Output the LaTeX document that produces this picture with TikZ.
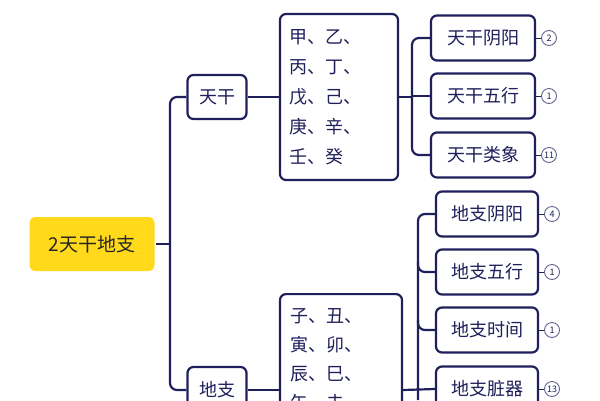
\documentclass[tikz,border=0pt]{standalone}
\usepackage{fontspec}
\setmainfont{Noto Sans CJK SC}
\definecolor{navy}{HTML}{1F1F5C}
\definecolor{gold}{HTML}{FFD91A}
\begin{document}
\begin{tikzpicture}[x=1pt,y=-1pt,
  box/.style={draw=navy,line width=2.2pt,rounded corners=6pt,fill=white,text=navy,font=\fontsize{18}{20}\selectfont,inner sep=0pt},
  num/.style={circle,draw=navy!70,line width=0.9pt,inner sep=0pt,minimum size=15pt,text=navy,font=\fontsize{9}{10}\selectfont},
  ln/.style={draw=navy,line width=2.2pt,rounded corners=7pt}]
\useasboundingbox (0,0) rectangle (600,400);
\clip (0,0) rectangle (600,400);
\node[box,fill=gold,draw=none,text=black!85,minimum width=125pt,minimum height=54pt,font=\fontsize{19}{22}\selectfont] (root) at (92,244) {2天干地支};
\node[box,minimum width=59pt,minimum height=44pt] (tg) at (217,97) {天干};
\node[box,minimum width=59pt,minimum height=46pt] (dz) at (217,390) {地支};
\node[box,minimum width=118pt,minimum height=166pt,align=left,text width=100pt,font=\fontsize{18}{30}\selectfont] (tgl) at (339,97) {甲、乙、\\丙、丁、\\戊、己、\\庚、辛、\\壬、癸};
\node[box,minimum width=122pt,minimum height=200pt,anchor=north] (dzl) at (341,293) {};
\node[anchor=north west,align=left,text=navy,inner sep=0pt,font=\fontsize{18}{29}\selectfont] (dzt) at (290,308) {子、丑、\\寅、卯、\\辰、巳、\\午、未、};
\node[box,minimum width=104pt,minimum height=45pt] (a1) at (483,38) {天干阴阳};
\node[box,minimum width=104pt,minimum height=45pt] (a2) at (483,96) {天干五行};
\node[box,minimum width=104pt,minimum height=45pt] (a3) at (483,155) {天干类象};
\node[box,minimum width=102pt,minimum height=45pt] (b1) at (487,214) {地支阴阳};
\node[box,minimum width=102pt,minimum height=45pt] (b2) at (487,272) {地支五行};
\node[box,minimum width=102pt,minimum height=45pt] (b3) at (487,330) {地支时间};
\node[box,minimum width=102pt,minimum height=45pt] (b4) at (487,389) {地支脏器};
\node[num] (n1) at (549,38) {2};
\node[num] (n2) at (549,96) {1};
\node[num] (n3) at (549,155) {11};
\node[num] (n4) at (552,214) {4};
\node[num] (n5) at (552,272) {1};
\node[num] (n6) at (552,330) {1};
\node[num] (n7) at (552,389) {13};
\coordinate (j0) at (170,244);
\draw[ln] (root.east) -- (j0);
\draw[ln] (tg.west) -- (170,97) -- (170,390) -- (dz.west);
\draw[ln] (tg.east) -- (tgl.west);
\draw[ln] (dz.east) -- (dzl.west |- dz.east);
\draw[ln,rounded corners=0pt] (tgl.east) -- (412,97);
\draw[ln] (a1.west) -- (412,38) -- (412,155) -- (a3.west);
\draw[ln,rounded corners=0pt] (412,96) -- (a2.west);
\draw[ln,rounded corners=0pt] (dzl.east |- dz.east) -- (b4.west);
\draw[ln] (b1.west) -- (418,214) -- (418,400);
\foreach \t/\y in {b2/272,b3/330} {\draw[ln] (418,\y-10) -- (418,\y) -- (\t.west);}
\foreach \a/\b in {a1/n1,a2/n2,a3/n3,b1/n4,b2/n5,b3/n6,b4/n7} \draw[navy,line width=0.9pt] (\a.east) -- (\b.west);
\end{tikzpicture}
\end{document}
